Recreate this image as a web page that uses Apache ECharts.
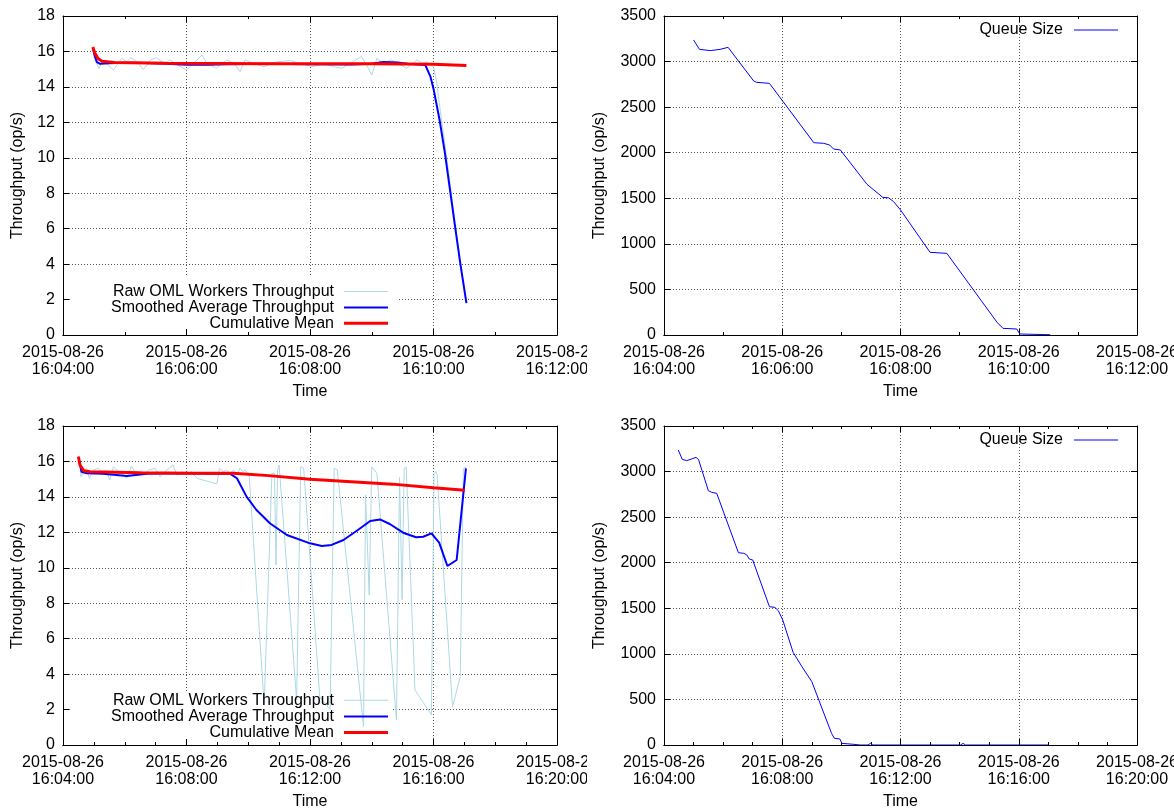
<!DOCTYPE html>
<html>
<head>
<meta charset="utf-8">
<script src="https://cdn.jsdelivr.net/npm/echarts@6/dist/echarts.min.js"></script>
<style>
  html, body { margin: 0; padding: 0; background: #fff; }
  .panel { position: absolute; width: 587px; height: 405px; overflow: hidden; }
</style>
</head>
<body>
<div id="tl" class="panel" style="left:0;top:0"></div>
<div id="tr" class="panel" style="left:587px;top:0"></div>
<div id="bl" class="panel" style="left:0;top:405px"></div>
<div id="br" class="panel" style="left:587px;top:405px"></div>
<script>
// x values are seconds after 16:04:00 on 2015-08-26
const day = '2015-08-26';
const startClock = '16:04:00';
const font = 'Liberation Sans, Arial, sans-serif';

const rawName = 'Raw OML Workers Throughput';
const smoothName = 'Smoothed Average Throughput';
const meanName = 'Cumulative Mean';
const queueName = 'Queue Size';

// run 1 (top row)
const run1Raw = [[31,15.52],[35,15.05],[39,15.52],[42,15.33],[49,14.96],[57,15.61],[62,15.42],[66,15.65],[72,15.42],[78,14.98],
  [85,15.52],[91,15.65],[98,15.33],[104,15.52],[111,15.24],[120,14.96],[127,15.33],[135,15.8],[140,15.33],[149,15.05],
  [159,15.52],[166,15.33],[172,14.86],[177,15.52],[185,15.33],[195,15.14],[208,15.42],[221,15.48],[230,15.33],[243,15.14],
  [253,15.33],[263,15.14],[271,15.05],[279,15.33],[290,15.71],[295,15.24],[300,14.67],[305,15.61],[311,15.33],[319,15.52],
  [328,15.24],[334,15.05],[340,15.33],[344,15.52],[349,15.33],[353,15.42],[360,15.14],[363,14.3],[366,12.9],[371,10.8],
  [376,8.6],[381,6.3],[386,4.0],[392,1.8]];
const run1Smooth = [[29,16.2],[31,15.7],[33,15.4],[36,15.3],[45,15.33],[60,15.36],[80,15.35],[100,15.3],[120,15.25],[140,15.25],
  [160,15.28],[200,15.3],[240,15.28],[280,15.26],[300,15.3],[311,15.4],[325,15.38],[335,15.3],[352,15.24],[357,14.58],
  [360,13.9],[366,12.1],[371,10.3],[376,8.2],[381,6.1],[386,4.06],[392,1.8]];
const run1Mean = [[29,16.25],[31,15.9],[34,15.6],[38,15.45],[50,15.38],[100,15.34],[200,15.3],[300,15.3],[360,15.28],[392,15.2]];
const run1Queue = [[30,3237],[36,3134],[47,3120],[57,3134],[65,3156],[67,3145],[91,2787],[94,2772],[107,2761],[152,2110],
  [162,2103],[168,2085],[172,2041],[179,2030],[206,1653],[222,1510],[228,1505],[233,1463],[240,1372],[270,907],
  [287,896],[338,139],[344,73],[358,66],[361,11],[392,3]];

// run 2 (bottom row)
const run2Raw = [[33,15.61],[35,15.14],[40,15.42],[46,15.61],[51,15.05],[59,15.52],[69,15.61],[78,15.24],[85,15.42],[91,14.95],
  [98,15.7],[108,15.42],[117,15.24],[124,15.05],[133,15.74],[143,15.24],[153,15.48],[159,15.24],[166,15.52],[179,15.61],
  [189,15.14],[198,15.42],[214,15.8],[221,15.24],[231,15.42],[240,15.29],[250,15.42],[260,15.05],[299,14.73],[304,15.61],
  [312,15.42],[318,15.52],[325,15.29],[331,15.52],[337,15.24],[344,15.61],[350,15.42],[354,15.52],[362,15.14],[391,2.25],
  [406,15.33],[411,15.33],[414,10.16],[417,15.52],[420,15.8],[423,15.7],[454,2.54],[462,15.7],[466,15.67],[468,15.52],
  [499,2.71],[519,2.0],[527,15.61],[533,15.52],[584,1.03],[588,14.11],[595,8.46],[600,15.7],[603,15.7],[610,15.33],
  [648,1.41],[654,15.1],[659,8.2],[663,15.61],[667,15.67],[684,3.1],[716,1.7],[721,15.33],[725,15.42],[727,15.24],
  [757,2.16],[772,3.85],[778,15.61],[783,15.67]];
const run2Smooth = [[30,16.27],[36,15.42],[46,15.33],[78,15.31],[124,15.18],[163,15.31],[221,15.33],[286,15.31],[325,15.3],[338,15.05],
  [357,14.0],[376,13.26],[402,12.51],[435,11.85],[480,11.38],[503,11.23],[522,11.29],[545,11.57],[571,12.09],[597,12.64],
  [616,12.73],[635,12.47],[661,11.98],[686,11.72],[700,11.75],[716,11.94],[731,11.42],[747,10.1],[765,10.44],[783,15.61]];
const run2Mean = [[30,16.27],[33,15.8],[40,15.48],[53,15.42],[150,15.36],[250,15.33],[331,15.33],[400,15.2],[480,15.0],[560,14.86],
  [640,14.72],[720,14.52],[781,14.38]];
const run2Queue = [[29,3237],[37,3134],[46,3120],[56,3138],[65,3156],[70,3134],[90,2790],[97,2772],[107,2761],[151,2110],
  [162,2103],[168,2085],[173,2041],[180,2030],[214,1517],[225,1510],[232,1474],[241,1372],[262,1017],[280,859],
  [300,695],[340,128],[346,73],[357,66],[361,18],[384,8],[398,0],[414,0],[419,18],[424,0],[602,0],[607,18],[612,0],[780,0]];

function clockLabel(sec) {
  const [h, m, s] = startClock.split(':').map(Number);
  const t = h * 3600 + m * 60 + s + sec;
  const pad = n => String(n).padStart(2, '0');
  return day + '\n' + pad(Math.floor(t / 3600)) + ':' + pad(Math.floor(t / 60) % 60) + ':' + pad(t % 60);
}

const black = { color: '#000', width: 1 };
const dotted = { show: true, showMinLine: false, showMaxLine: false, lineStyle: { color: '#555', type: [1, 2], width: 1 } };

function buildAxes(c) {
  const xBase = {
    type: 'value', min: 0, max: c.span, interval: c.step,
    axisLine: { show: true, onZero: false, lineStyle: black },
    axisTick: { show: true, inside: true, length: 6, lineStyle: black },
    minorTick: { show: true, splitNumber: c.minor, length: 3, lineStyle: black }
  };
  const yBase = {
    type: 'value', min: 0, max: c.ymax, interval: c.ystep,
    axisLine: { show: true, onZero: false, lineStyle: black },
    axisTick: { show: true, inside: true, length: 6, lineStyle: black }
  };
  return {
    xAxis: [
      Object.assign({}, xBase, {
        position: 'bottom',
        name: 'Time', nameLocation: 'middle', nameGap: 49,
        nameTextStyle: { fontSize: 16, color: '#000', fontFamily: font },
        axisLabel: { formatter: clockLabel, fontSize: 16, lineHeight: 17, color: '#000', fontFamily: font,
          margin: 9, showMinLabel: true, showMaxLabel: true, hideOverlap: false },
        splitLine: dotted
      }),
      Object.assign({}, xBase, { position: 'top', axisLabel: { show: false }, splitLine: { show: false } }),
      // bottom border again, drawn above the data like gnuplot's frame
      { type: 'value', min: 0, max: c.span, position: 'bottom', z: 10,
        axisLine: { show: true, onZero: false, lineStyle: black },
        axisTick: { show: false }, axisLabel: { show: false }, splitLine: { show: false } }
    ],
    yAxis: [
      Object.assign({}, yBase, {
        position: 'left',
        name: 'Throughput (op/s)', nameLocation: 'middle', nameGap: c.nameGap, nameRotate: 90,
        nameTextStyle: { fontSize: 16, color: '#000', fontFamily: font },
        axisLabel: { formatter: v => String(v), fontSize: 16, color: '#000', fontFamily: font, margin: 8 },
        splitLine: dotted
      }),
      Object.assign({}, yBase, { position: 'right', axisLabel: { show: false }, splitLine: { show: false } })
    ]
  };
}

// one legend per entry so that the samples line up on the right, like the gnuplot key
function legendItem(name, right, top, gap, lineWidth) {
  return {
    data: [name], orient: 'horizontal', align: 'right', right: right, top: top,
    padding: 0, icon: 'rect', itemWidth: 44, itemHeight: lineWidth, selectedMode: false,
    textStyle: { fontSize: 16, lineHeight: 16, color: '#000', fontFamily: font, padding: [0, gap, 0, 0] }
  };
}

function line(name, data, color, width, z) {
  return { name: name, type: 'line', data: data, symbol: 'none', color: color,
    lineStyle: { color: color, width: width }, z: z, animation: false };
}

function throughputPanel(id, c) {
  const axes = buildAxes(c);
  const chart = echarts.init(document.getElementById(id));
  chart.setOption({
    animation: false,
    grid: Object.assign({ outerBoundsMode: 'none', containLabel: false }, c.grid),
    xAxis: axes.xAxis,
    yAxis: axes.yAxis,
    legend: [
      legendItem(rawName, c.legendRight, c.legendTops[0], 5, 1),
      legendItem(smoothName, c.legendRight, c.legendTops[1], 5, 2),
      legendItem(meanName, c.legendRight, c.legendTops[2], 5, 3)
    ],
    graphic: { elements: [{ type: 'rect', z: 1, shape: c.mask, style: { fill: '#fff' } }] },
    series: [
      line(rawName, c.raw, '#add8e6', 1, 2),
      line(smoothName, c.smooth, '#0000ff', 2, 3),
      line(meanName, c.mean, '#ff0000', 3, 4)
    ]
  });
}

function queuePanel(id, c) {
  const axes = buildAxes(c);
  const chart = echarts.init(document.getElementById(id));
  chart.setOption({
    animation: false,
    grid: Object.assign({ outerBoundsMode: 'none', containLabel: false }, c.grid),
    xAxis: axes.xAxis,
    yAxis: axes.yAxis,
    legend: [legendItem(queueName, c.legendRight, c.legendTop, 6, 1)],
    series: [line(queueName, c.queue, '#0000ff', 1, 2)]
  });
}

throughputPanel('tl', {
  span: 480, step: 120, minor: 2, ymax: 18, ystep: 2, nameGap: 37,
  grid: { left: 63, top: 16, width: 494, height: 319 },
  legendRight: 199, legendTops: [283.5, 299.5, 315.3],
  mask: { x: 72, y: 276, width: 325, height: 53 },
  raw: run1Raw, smooth: run1Smooth, mean: run1Mean
});
queuePanel('tr', {
  span: 480, step: 120, minor: 2, ymax: 3500, ystep: 500, nameGap: 56,
  grid: { left: 77, top: 16, width: 473, height: 319 },
  legendRight: 56, legendTop: 22,
  queue: run1Queue
});
throughputPanel('bl', {
  span: 960, step: 240, minor: 4, ymax: 18, ystep: 2, nameGap: 37,
  grid: { left: 63, top: 21, width: 494, height: 319 },
  legendRight: 199, legendTops: [287.3, 303.5, 319.5],
  mask: { x: 72, y: 287, width: 321, height: 47 },
  raw: run2Raw, smooth: run2Smooth, mean: run2Mean
});
queuePanel('br', {
  span: 960, step: 240, minor: 4, ymax: 3500, ystep: 500, nameGap: 56,
  grid: { left: 77, top: 21, width: 473, height: 319 },
  legendRight: 56, legendTop: 27,
  queue: run2Queue
});
</script>
</body>
</html>
